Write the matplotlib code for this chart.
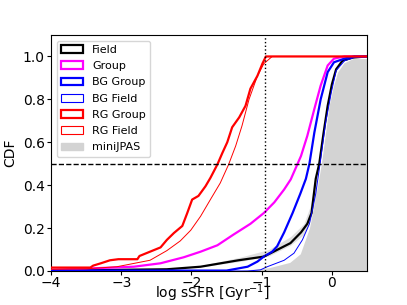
import matplotlib
matplotlib.use("Agg")
import matplotlib.pyplot as plt
from matplotlib.patches import Patch

# ---- data ----
rg_group_x = [-4.0, -3.44, -3.40, -3.29, -3.16, -3.04, -2.77, -2.74, -2.59, -2.44, -2.35, -2.25, -2.13,
              -2.06, -1.99, -1.90, -1.80, -1.73, -1.63, -1.56, -1.49, -1.42, -1.32, -1.23, -1.16,
              -1.06, -0.99, -0.94, 0.5]
rg_group_y = [0.016, 0.016, 0.025, 0.036, 0.05, 0.055, 0.055, 0.07, 0.09, 0.11, 0.145, 0.177, 0.21,
              0.27, 0.333, 0.35, 0.395, 0.434, 0.497, 0.55, 0.60, 0.67, 0.716, 0.77, 0.85,
              0.91, 0.966, 1.0, 1.0]

rg_field_x = [-4.0, -3.5, -3.06, -2.59, -2.35, -2.16, -2.01, -1.87, -1.73, -1.59, -1.47, -1.37,
              -1.28, -1.18, -1.06, -0.97, -0.85, 0.5]
rg_field_y = [0.008, 0.01, 0.02, 0.05, 0.095, 0.14, 0.19, 0.255, 0.333, 0.41, 0.497, 0.583,
              0.677, 0.80, 0.91, 0.966, 1.0, 1.0]

group_x = [-4.0, -2.82, -2.44, -2.11, -1.87, -1.63, -1.40, -1.16, -0.97, -0.82, -0.68, -0.586,
           -0.44, -0.35, -0.25, -0.16, -0.06, 0.03, 0.18, 0.5]
group_y = [0.005, 0.02, 0.036, 0.064, 0.09, 0.12, 0.17, 0.22, 0.27, 0.32, 0.38, 0.427,
           0.536, 0.63, 0.755, 0.864, 0.958, 0.99, 1.0, 1.0]

bg_group_x = [-4.0, -1.5, -1.4, -1.2, -1.06, -0.97, -0.85, -0.78, -0.68, -0.56, -0.45, -0.37,
              -0.32, -0.25, -0.16, -0.06, 0.03, 0.18, 0.32, 0.5]
bg_group_y = [0.002, 0.002, 0.008, 0.02, 0.044, 0.067, 0.09, 0.115, 0.18, 0.27, 0.36, 0.43,
              0.50, 0.645, 0.80, 0.927, 0.973, 0.99, 1.0, 1.0]

bg_field_x = [-4.0, -1.2, -1.02, -0.92, -0.68, -0.54, -0.42, -0.32, -0.23, -0.16, -0.09, -0.01,
              0.06, 0.18, 0.32, 0.5]
bg_field_y = [0.0, 0.0, 0.005, 0.02, 0.05, 0.083, 0.145, 0.22, 0.36, 0.52, 0.69, 0.83,
              0.934, 0.98, 0.995, 1.0]

field_x = [-4.0, -2.35, -1.87, -1.33, -0.97, -0.59, -0.44, -0.35, -0.29, -0.23, -0.18, -0.12,
           -0.06, 0.0, 0.06, 0.15, 0.3, 0.5]
field_y = [0.002, 0.008, 0.02, 0.05, 0.067, 0.13, 0.18, 0.22, 0.27, 0.43, 0.50, 0.64,
           0.77, 0.87, 0.94, 0.98, 0.995, 1.0]

# light band around the Field curve
band_x = [-1.8, -1.3, -0.9, -0.59, -0.4, -0.3, -0.22]
band_lo = [0.022, 0.045, 0.07, 0.12, 0.17, 0.24, 0.35]
band_hi = [0.03, 0.065, 0.10, 0.16, 0.22, 0.31, 0.45]

mini_x = [-4.0, -1.3, -0.9, -0.6, -0.45, -0.32, -0.24, -0.15, -0.1, -0.04, 0.02, 0.08, 0.17, 0.3, 0.5]
mini_y = [0.0, 0.003, 0.015, 0.04, 0.08, 0.2, 0.33, 0.5, 0.62, 0.77, 0.86, 0.926, 0.97, 0.99, 0.99]

labels = ["Field", "Group", "BG Group", "BG Field", "RG Group", "RG Field", "miniJPAS"]

# ---- plot ----
fig = plt.figure(figsize=(4.07, 3.05), dpi=100)
ax = fig.add_axes([51/407, 1 - 271/305, (367-51)/407, (271-35)/305])

ax.fill_between(mini_x, 0, mini_y, color="#d3d3d3", lw=0, zorder=1)
ax.fill_between(band_x, band_lo, band_hi, color="#cccccc", lw=0, alpha=0.6, zorder=1.5)
ax.plot(field_x, field_y, color="black", lw=1.6, zorder=3)
ax.plot(group_x, group_y, color="magenta", lw=1.6, zorder=3)
ax.plot(bg_field_x, bg_field_y, color="blue", lw=0.7, zorder=3)
ax.plot(bg_group_x, bg_group_y, color="blue", lw=1.6, zorder=3)
ax.plot(rg_field_x, rg_field_y, color="red", lw=0.7, zorder=4)
ax.plot(rg_group_x, rg_group_y, color="red", lw=1.6, zorder=4)

ax.axhline(0.5, color="black", ls="--", lw=1.0, zorder=5)
ax.axvline(-0.95, color="black", ls=":", lw=1.0, zorder=5)

ax.set_xlim(-4, 0.5)
ax.set_ylim(0, 1.1)
ax.set_xticks([-4, -3, -2, -1, 0])
ax.set_yticks([0.0, 0.2, 0.4, 0.6, 0.8, 1.0])
ax.tick_params(labelsize=10, length=3, pad=1.5)
ax.tick_params(axis="x", pad=0.8)
ax.set_xlabel("log sSFR [Gyr$^{-1}$]", fontsize=10, va="baseline")
ax.xaxis.set_label_coords(0.51, -0.116)
ax.set_ylabel("CDF", fontsize=10, labelpad=4)

handles = [
    Patch(facecolor="none", edgecolor="black", lw=1.6),
    Patch(facecolor="none", edgecolor="magenta", lw=1.6),
    Patch(facecolor="none", edgecolor="blue", lw=1.6),
    Patch(facecolor="none", edgecolor="blue", lw=0.8),
    Patch(facecolor="none", edgecolor="red", lw=1.6),
    Patch(facecolor="none", edgecolor="red", lw=0.8),
    Patch(facecolor="#d3d3d3", edgecolor="#d3d3d3"),
]
ax.legend(handles, labels, loc="upper left", fontsize=8, framealpha=0.8,
          handlelength=2.0, handleheight=0.7, labelspacing=0.56, borderpad=0.4,
          handletextpad=0.8, borderaxespad=0.5)

fig.savefig("out.png", dpi=100)
